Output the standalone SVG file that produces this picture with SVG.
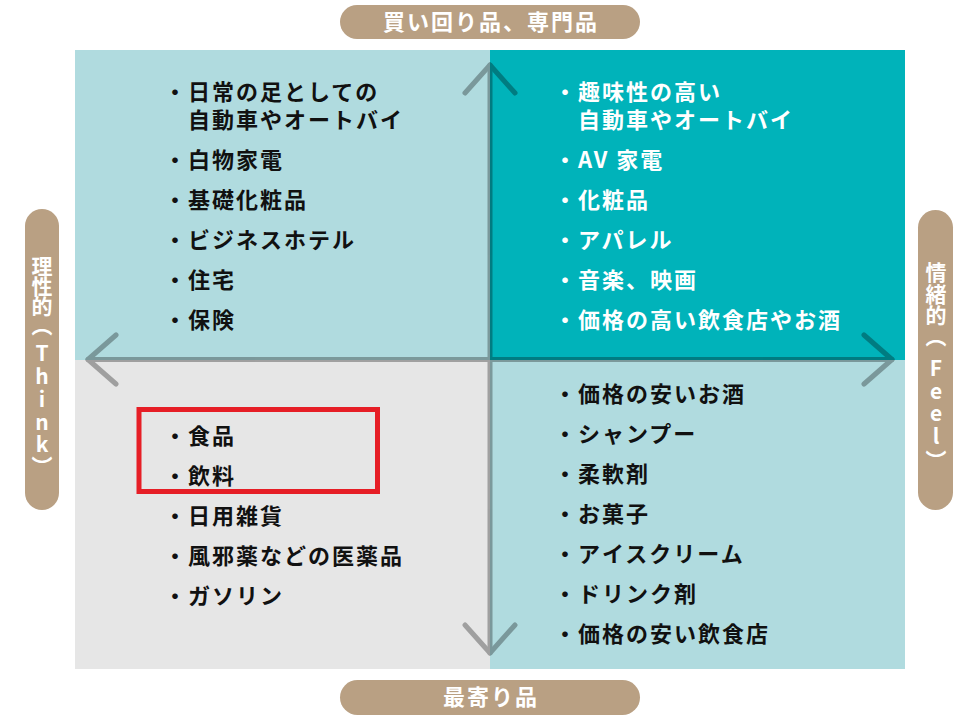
<svg xmlns="http://www.w3.org/2000/svg" width="980" height="720" viewBox="0 0 980 720">
<style>
.t{font-family:"Noto Sans CJK JP","Noto Sans CJK SC",sans-serif;font-weight:700;font-size:22px;letter-spacing:2px}
.dk{fill:#111}
.wt{fill:#fff}
.pill{fill:#b9a083}
.pt{font-family:"Noto Sans CJK JP","Noto Sans CJK SC",sans-serif;font-weight:700;font-size:22px;fill:#fff;letter-spacing:2px}
.vt{font-family:"Noto Sans CJK JP","Noto Sans CJK SC",sans-serif;font-weight:700;font-size:21px;fill:#fff;writing-mode:vertical-rl;text-orientation:upright;dominant-baseline:central}
.ax{stroke:#000;stroke-width:5;fill:none;stroke-linecap:round;stroke-linejoin:round}
</style>
<g id="quadrants">
<rect id="q-tl" x="75" y="50" width="415" height="310" fill="#b0dbdf"/>
<rect id="q-tr" x="490" y="50" width="415" height="310" fill="#00b3ba"/>
<rect id="q-bl" x="75" y="360" width="415" height="309" fill="#e6e6e6"/>
<rect id="q-br" x="490" y="360" width="415" height="309" fill="#b0dbdf"/>
</g>
<g id="connectors" opacity="0.3">
<path class="ax" d="M88 359.5H892M490 65V653"/>
<path class="ax" d="M116 335L88 359.5L116 384"/>
<path class="ax" d="M864 335L892 359.5L864 384"/>
<path class="ax" d="M465 93L490 65L515 93"/>
<path class="ax" d="M465 625L490 653L515 625"/>
</g>
<g id="label-top"><rect class="pill" x="340" y="5" width="300" height="34" rx="17"/><text class="pt" x="491" y="30" text-anchor="middle">買い回り品、専門品</text></g>
<g id="label-bottom"><rect class="pill" x="340" y="680" width="300" height="35" rx="17.5"/><text class="pt" x="491" y="705" text-anchor="middle">最寄り品</text></g>
<g id="label-left"><rect class="pill" x="25" y="209" width="34" height="301" rx="17"/><text class="vt" x="42" y="256 276 296 315 343 366 389 412 434 456">理性的（Think）</text></g>
<g id="label-right"><rect class="pill" x="918" y="210" width="35" height="300" rx="17.5"/><text class="vt" x="936" y="262 284 305 326 358 381 403 426 450">情緒的（Feel）</text></g>
<g id="node-tl" class="t dk">
<text><tspan x="164" y="100">・日常の足としての</tspan><tspan x="188" y="128">自動車やオートバイ</tspan></text>
<text x="164" y="168">・白物家電</text>
<text x="164" y="208">・基礎化粧品</text>
<text x="164" y="248">・ビジネスホテル</text>
<text x="164" y="288">・住宅</text>
<text x="164" y="328">・保険</text>
</g>
<g id="node-tr" class="t wt">
<text><tspan x="554" y="100">・趣味性の高い</tspan><tspan x="578" y="128">自動車やオートバイ</tspan></text>
<text x="554" y="168">・AV 家電</text>
<text x="554" y="208">・化粧品</text>
<text x="554" y="248">・アパレル</text>
<text x="554" y="288">・音楽、映画</text>
<text x="554" y="328">・価格の高い飲食店やお酒</text>
</g>
<g id="node-bl" class="t dk">
<text x="164" y="444">・食品</text>
<text x="164" y="484">・飲料</text>
<text x="164" y="524">・日用雑貨</text>
<text x="164" y="564">・風邪薬などの医薬品</text>
<text x="164" y="604">・ガソリン</text>
</g>
<g id="node-br" class="t dk">
<text x="554" y="402">・価格の安いお酒</text>
<text x="554" y="442">・シャンプー</text>
<text x="554" y="482">・柔軟剤</text>
<text x="554" y="522">・お菓子</text>
<text x="554" y="562">・アイスクリーム</text>
<text x="554" y="602">・ドリンク剤</text>
<text x="554" y="642">・価格の安い飲食店</text>
</g>
<g id="highlight"><rect x="139" y="409.5" width="238.5" height="82" fill="none" stroke="#e61e26" stroke-width="5"/></g>
</svg>
